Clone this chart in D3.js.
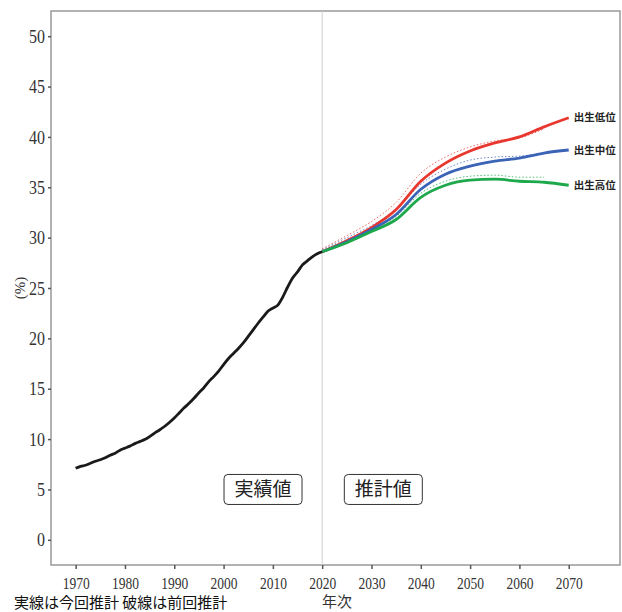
<!DOCTYPE html>
<html>
<head>
<meta charset="utf-8">
<script src="https://cdn.jsdelivr.net/npm/d3@7"></script>
<style>
  body { margin: 0; background: #fff; }
  svg { display: block; }
</style>
</head>
<body>
<div id="chart"></div>
<script>
// actual aging rate (65+ share), 1970-2020
const actualYears = d3.range(1970, 2021);
const actualValues = [7.1, 7.3, 7.4, 7.6, 7.8, 7.95, 8.15, 8.4, 8.6, 8.9,
  9.1, 9.3, 9.55, 9.75, 9.95, 10.25, 10.6, 10.9, 11.25, 11.65,
  12.1, 12.6, 13.1, 13.55, 14.05, 14.6, 15.1, 15.7, 16.2, 16.75,
  17.4, 18.0, 18.5, 19.0, 19.55, 20.2, 20.85, 21.5, 22.1, 22.7,
  23.0, 23.3, 24.1, 25.1, 26.0, 26.6, 27.3, 27.7, 28.1, 28.4, 28.6];

// current projection (solid)
const projYears = [2020, 2025, 2030, 2035, 2040, 2045, 2050, 2055, 2060, 2065, 2070];
const lowBirth = [28.6, 29.7, 31.0, 32.8, 35.6, 37.4, 38.6, 39.4, 40.0, 41.0, 41.9];
const midBirth = [28.6, 29.6, 30.8, 32.3, 34.8, 36.3, 37.1, 37.6, 37.9, 38.4, 38.7];
const highBirth = [28.6, 29.5, 30.6, 31.8, 34.0, 35.2, 35.7, 35.8, 35.6, 35.5, 35.2];

// previous projection (dotted)
const prevYears = [2020, 2025, 2030, 2035, 2040, 2045, 2050, 2055, 2060, 2065];
const prevLow = [28.9, 30.2, 31.6, 33.5, 36.4, 38.0, 39.0, 39.6, 39.9, 40.8];
const prevMid = [28.8, 30.0, 31.2, 32.8, 35.3, 36.8, 37.7, 38.0, 38.1, 38.4];
const prevHigh = [28.7, 29.8, 30.8, 32.1, 34.4, 35.6, 36.1, 36.2, 36.0, 36.0];

const seriesNames = ["出生低位", "出生中位", "出生高位"];
const seriesColors = ["#e8372f", "#3b63b6", "#1ea84c"];

const xTicks = d3.range(1970, 2071, 10);
const yTicks = d3.range(0, 51, 5);

const width = 622, height = 612;
const margin = { top: 11, right: 2, bottom: 47, left: 51 };

const svg = d3.select("#chart").append("svg")
  .attr("width", width)
  .attr("height", height);

const x = d3.scaleLinear().domain([1965, 2080.4]).range([margin.left, width - margin.right]);
const y = d3.scaleLinear().domain([-2.5, 52.5]).range([height - margin.bottom, margin.top]);

// frame
svg.append("rect")
  .attr("x", margin.left)
  .attr("y", margin.top)
  .attr("width", width - margin.right - margin.left)
  .attr("height", height - margin.bottom - margin.top)
  .attr("fill", "none")
  .attr("stroke", "#999")
  .attr("stroke-width", 1.5);

// 2020 divider
svg.append("line")
  .attr("x1", x(2020)).attr("x2", x(2020))
  .attr("y1", margin.top).attr("y2", height - margin.bottom)
  .attr("stroke", "#d0d0d0")
  .attr("stroke-width", 1);

// axes
const xAxis = svg.append("g")
  .attr("transform", `translate(0,${height - margin.bottom})`)
  .call(d3.axisBottom(x).tickValues(xTicks).tickFormat(d3.format("d")).tickSize(4).tickPadding(8));
xAxis.select(".domain").remove();
xAxis.selectAll(".tick line").attr("stroke", "#555").attr("stroke-width", 1.5);
xAxis.selectAll("text")
  .attr("font-family", "'Liberation Serif', serif")
  .attr("font-size", 16.5)
  .attr("fill", "#333")
  .attr("textLength", 27)
  .attr("lengthAdjust", "spacingAndGlyphs");

const yAxis = svg.append("g")
  .attr("transform", `translate(${margin.left},0)`)
  .call(d3.axisLeft(y).tickValues(yTicks).tickSize(3).tickPadding(3));
yAxis.select(".domain").remove();
yAxis.selectAll(".tick line").attr("stroke", "#555").attr("stroke-width", 1.5);
yAxis.selectAll("text")
  .attr("font-family", "'Liberation Serif', serif")
  .attr("font-size", 19)
  .attr("fill", "#333")
  .attr("textLength", d => String(d).length * 8)
  .attr("lengthAdjust", "spacingAndGlyphs");

const line = d3.line()
  .x(d => x(d[0]))
  .y(d => y(d[1]))
  .curve(d3.curveMonotoneX);

// previous projections (dotted)
[prevLow, prevMid, prevHigh].forEach((vals, i) => {
  svg.append("path")
    .datum(prevYears.map((yr, j) => [yr, vals[j]]))
    .attr("fill", "none")
    .attr("stroke", seriesColors[i])
    .attr("stroke-opacity", 0.75)
    .attr("stroke-width", 1)
    .attr("stroke-dasharray", "1.5,2")
    .attr("d", line);
});

// current projections (solid)
[lowBirth, midBirth, highBirth].forEach((vals, i) => {
  svg.append("path")
    .datum(projYears.map((yr, j) => [yr, vals[j]]))
    .attr("fill", "none")
    .attr("stroke", seriesColors[i])
    .attr("stroke-width", 2.8)
    .attr("d", line);
});

// actual
svg.append("path")
  .datum(actualYears.map((yr, j) => [yr, actualValues[j]]))
  .attr("fill", "none")
  .attr("stroke", "#1a1a1a")
  .attr("stroke-width", 2.8)
  .attr("d", line);

// series labels
const lastVals = [lowBirth, midBirth, highBirth].map(v => v[v.length - 1]);
svg.selectAll(".series-label")
  .data(seriesNames)
  .enter().append("text")
  .attr("class", "series-label")
  .attr("x", x(2070) + 5)
  .attr("y", (d, i) => y(lastVals[i]))
  .attr("dy", "0.35em")
  .attr("font-family", "'Noto Sans CJK JP', sans-serif")
  .attr("font-size", 10.5)
  .attr("font-weight", "bold")
  .attr("fill", "#222")
  .text(d => d);

// boxed annotations
const boxes = [
  { text: "実績値", year: 2008 },
  { text: "推計値", year: 2032.4 }
];
boxes.forEach(b => {
  const cx = x(b.year), cy = y(5);
  svg.append("rect")
    .attr("x", cx - 39).attr("y", cy - 15)
    .attr("width", 78).attr("height", 30)
    .attr("rx", 4)
    .attr("fill", "#fff")
    .attr("stroke", "#333")
    .attr("stroke-width", 1);
  svg.append("text")
    .attr("x", cx).attr("y", cy)
    .attr("dy", "0.36em")
    .attr("text-anchor", "middle")
    .attr("font-family", "'Noto Sans CJK JP', sans-serif")
    .attr("font-size", 19)
    .attr("fill", "#222")
    .text(b.text);
});

// axis titles
svg.append("text")
  .attr("transform", `translate(25,${y(25)}) rotate(-90)`)
  .attr("text-anchor", "middle")
  .attr("font-family", "'Liberation Serif', serif")
  .attr("font-size", 15)
  .attr("fill", "#333")
  .text("(%)");

svg.append("text")
  .attr("x", x(2023))
  .attr("y", 607)
  .attr("text-anchor", "middle")
  .attr("font-family", "'Noto Sans CJK JP', serif")
  .attr("font-size", 15)
  .attr("fill", "#333")
  .text("年次");

// note
svg.append("text")
  .attr("x", 14)
  .attr("y", 608)
  .attr("font-family", "'Noto Sans CJK JP', sans-serif")
  .attr("font-size", 15)
  .attr("fill", "#111")
  .text("実線は今回推計 破線は前回推計");
</script>
</body>
</html>
